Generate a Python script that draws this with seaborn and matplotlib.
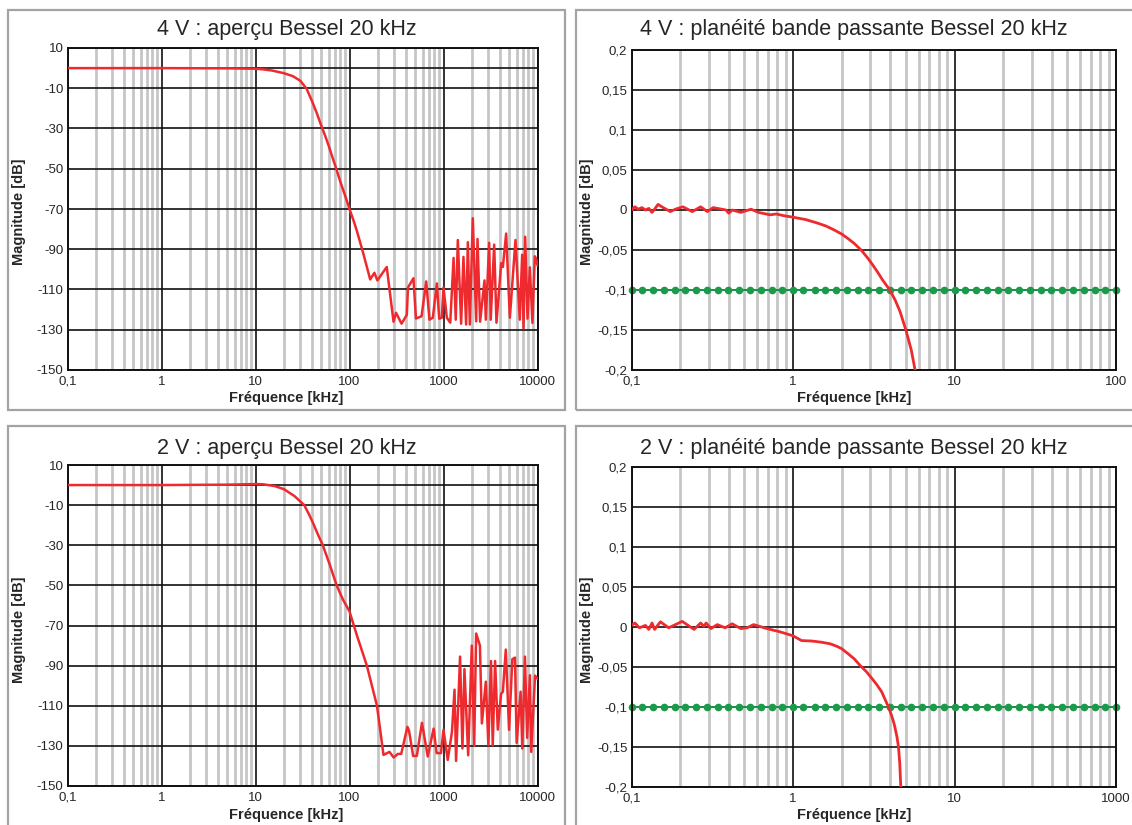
import numpy as np
import pandas as pd
import matplotlib
matplotlib.use("Agg")
import matplotlib.pyplot as plt
from matplotlib.patches import Rectangle
from matplotlib.ticker import FixedLocator, FixedFormatter, LogLocator, NullFormatter
import seaborn as sns

sns.set_style("white")
plt.rcParams["font.family"] = ["Liberation Sans", "DejaVu Sans"]

# ---------------------------------------------------------------- data (kHz, dB)
freq_4v_overview = [0.1, 1, 5, 10, 12, 15, 20, 25, 30, 35, 40, 45, 50, 55, 60, 65, 70, 80,
                    90, 100, 110, 120, 140, 166, 184, 198, 249, 294, 313, 358, 407, 419,
                    479, 509, 584, 655, 709, 770, 850, 900, 960, 1000, 1085, 1180, 1280,
                    1350, 1420, 1540, 1630, 1740, 1815, 1905, 2050, 2225, 2300, 2450,
                    2730, 2820, 3060, 3180, 3460, 3660, 4110, 4280, 4640, 5080, 5830,
                    6480, 6870, 7100, 7390, 7830, 8290, 8830, 9360, 9700, 10000]
mag_4v_overview = [0, 0, -0.1, -0.3, -0.6, -1.2, -2.5, -4, -6.3, -10.3, -16.5, -22.5,
                   -28.5, -33.5, -38.5, -43.5, -48, -56.5, -63.5, -70, -75.5, -81, -92,
                   -105, -101.7, -105.5, -98.8, -126, -121.6, -127, -122.6, -109, -104.4,
                   -124.4, -123.3, -106, -125, -124, -107, -124.5, -124, -109, -124,
                   -126.5, -94.3, -125, -85.4, -127, -93.8, -127.4, -86.5, -127.4, -74.6,
                   -125.8, -84.9, -126, -105.5, -125, -86.8, -125, -87.7, -126.5, -96.9,
                   -98.8, -82.2, -124, -85.4, -125, -92.7, -129.3, -83.8, -124.5, -99,
                   -126.6, -93.5, -95, -98]

freq_2v_overview = [0.1, 1, 5, 8, 10, 12, 16, 20, 26, 33, 37, 41, 46, 52, 62, 73, 85, 100,
                    120, 153, 196, 230, 266, 295, 327, 355, 413, 430, 475, 520, 590, 680,
                    785, 845, 940, 1000, 1110, 1230, 1310, 1360, 1500, 1590, 1670, 1830,
                    2000, 2120, 2225, 2440, 2560, 2820, 3000, 3200, 3340, 3540, 3780,
                    4100, 4280, 4600, 4980, 5400, 5760, 6000, 6610, 6890, 7350, 7760,
                    8300, 8570, 9420, 10000]
mag_2v_overview = [0, 0, 0.2, 0.4, 0.5, 0.4, -0.5, -2, -5.5, -10, -14.5, -19, -24.5, -30,
                   -40, -50, -57, -63, -75, -90, -110, -134.5, -133, -135.8, -134, -134,
                   -120.5, -122.5, -135, -135, -118.5, -135.3, -121.4, -133.6, -133.6,
                   -122, -137, -123, -102, -137.5, -85.5, -131.3, -91.7, -134.7, -80,
                   -130, -74, -80, -118.8, -98, -129.7, -87.7, -129.7, -87.7, -121.9, -104,
                   -103, -82, -122, -86.8, -86, -128.5, -103, -131.3, -85.5, -126, -94.8,
                   -133, -95, -96.5]

freq_4v_flat = [0.1, 0.105, 0.11, 0.116, 0.122, 0.128, 0.134, 0.139, 0.146, 0.154, 0.174,
                0.187, 0.208, 0.238, 0.268, 0.295, 0.32, 0.385, 0.4, 0.42, 0.475, 0.55,
                0.61, 0.72, 0.79, 0.87, 1.0, 1.2, 1.4, 1.6, 1.8, 2.0, 2.2, 2.4, 2.64, 2.9,
                3.1, 3.35, 3.6, 3.98, 4.3, 4.6, 5.0, 5.4, 5.7]
mag_4v_flat = [0.0, 0.004, 0.001, 0.003, 0.0, 0.002, -0.003, 0.001, 0.007, 0.004, -0.002,
               0.001, 0.004, -0.002, 0.004, -0.002, 0.003, 0.0, -0.004, 0.0, -0.003,
               0.001, -0.003, -0.006, -0.005, -0.007, -0.009, -0.012, -0.016, -0.020,
               -0.025, -0.030, -0.036, -0.042, -0.05, -0.06, -0.068, -0.078, -0.088,
               -0.1, -0.113, -0.127, -0.15, -0.175, -0.2]

freq_2v_flat = [0.1, 0.105, 0.112, 0.122, 0.128, 0.134, 0.139, 0.151, 0.170, 0.206, 0.244,
                0.268, 0.28, 0.29, 0.31, 0.34, 0.38, 0.42, 0.475, 0.52, 0.57, 0.69, 0.83,
                1.0, 1.13, 1.3, 1.5, 1.7, 1.86, 2.0, 2.18, 2.4, 2.6, 2.85, 3.1, 3.3, 3.54,
                3.9, 4.1, 4.24, 4.4, 4.5, 4.58, 4.65]
mag_2v_flat = [0.002, 0.005, -0.001, 0.002, -0.003, 0.005, -0.003, 0.0065, -0.001, 0.007,
               -0.003, 0.005, 0.001, 0.005, -0.002, 0.003, -0.001, 0.004, -0.002, -0.001,
               0.003, -0.002, -0.006, -0.011, -0.017, -0.0175, -0.019, -0.021, -0.024,
               -0.027, -0.033, -0.040, -0.048, -0.056, -0.065, -0.072, -0.081, -0.1,
               -0.112, -0.122, -0.137, -0.15, -0.17, -0.2]

# -0,1 dB tolerance line, sampled on the same grid in both flatness charts
limit_freq = [0.1, 0.116, 0.136, 0.158, 0.185, 0.215, 0.251, 0.293, 0.341, 0.398, 0.464,
              0.541, 0.631, 0.736, 0.858, 1.0, 1.16, 1.36, 1.58, 1.85, 2.15, 2.51, 2.93,
              3.41, 3.98, 4.64, 5.41, 6.31, 7.36, 8.58, 10.0, 11.6, 13.6, 15.8, 18.5,
              21.5, 25.1, 29.3, 34.1, 39.8, 46.4, 54.1, 63.1, 73.6, 85.8, 100.0]
limit_mag = [-0.1] * len(limit_freq)

titles = ["4 V : aperçu Bessel 20 kHz",
          "4 V : planéité bande passante Bessel 20 kHz",
          "2 V : aperçu Bessel 20 kHz",
          "2 V : planéité bande passante Bessel 20 kHz"]

overview_yticks = [10, -10, -30, -50, -70, -90, -110, -130, -150]
flat_yticks = [0.2, 0.15, 0.1, 0.05, 0, -0.05, -0.1, -0.15, -0.2]
flat_ylabels = ["0,2", "0,15", "0,1", "0,05", "0", "-0,05", "-0,1", "-0,15", "-0,2"]
overview_xticks = [0.1, 1, 10, 100, 1000, 10000]
overview_xlabels = ["0,1", "1", "10", "100", "1000", "10000"]
flat_xticks = [0.1, 1, 10, 100]
flat_xlabels_4v = ["0,1", "1", "10", "100"]
flat_xlabels_2v = ["0,1", "1", "10", "1000"]

# ---------------------------------------------------------------- layout helpers
W, H = 1132, 825
fig = plt.figure(figsize=(W / 100, H / 100), dpi=100)
fig.patch.set_facecolor("white")

RED = "#ee2a2e"
GREEN = "#1c9a4c"
TXT = "#262626"


def px_axes(left, top, right, bottom):
    return fig.add_axes([left / W, 1 - bottom / H, (right - left) / W, (bottom - top) / H])


def frame(left, top, right, bottom):
    fig.patches.append(Rectangle((left / W, 1 - bottom / H), (right - left) / W,
                                 (bottom - top) / H, transform=fig.transFigure,
                                 fill=False, edgecolor="#a3a3a3", lw=1.6, clip_on=False))


def style_axes(ax, xlim, ylim, xticks, xlabels, yticks, ylabels):
    ax.set_xscale("log")
    ax.set_xlim(*xlim)
    ax.set_ylim(*ylim)
    ax.xaxis.set_major_locator(FixedLocator(xticks))
    ax.xaxis.set_major_formatter(FixedFormatter(xlabels))
    ax.xaxis.set_minor_locator(LogLocator(base=10, subs=np.arange(2, 10)))
    ax.xaxis.set_minor_formatter(NullFormatter())
    ax.yaxis.set_major_locator(FixedLocator(yticks))
    ax.yaxis.set_major_formatter(FixedFormatter(ylabels))
    ax.set_axisbelow(True)
    ax.grid(which="minor", axis="x", color="#c6c6c6", lw=2.0)
    ax.grid(which="major", axis="both", color="#111111", lw=1.2)
    ax.tick_params(which="both", length=0, labelsize=9.5, labelcolor=TXT)
    ax.tick_params(axis="x", pad=4)
    ax.tick_params(axis="y", pad=3)
    for s in ax.spines.values():
        s.set_color("#111111")
        s.set_linewidth(1.4)
    ax.set_xlabel("")
    ax.set_ylabel("")


def panel_text(fx0, fx1, title_y, xlabel_y, ylabel_x, ylabel_y, title):
    cx = (fx0 + fx1) / 2 / W
    fig.text(cx, 1 - title_y / H, title, ha="center", va="center", fontsize=15.5, color=TXT)
    fig.text(cx, 1 - xlabel_y / H, "Fréquence [kHz]", ha="center", va="center",
             fontsize=10.5, fontweight="bold", color=TXT)
    fig.text(ylabel_x / W, 1 - ylabel_y / H, "Magnitude [dB]", ha="center", va="center",
             rotation=90, fontsize=10.5, fontweight="bold", color=TXT)


# ---------------------------------------------------------------- frames
frame(8, 10, 565, 410)
frame(576, 10, 1140, 410)
frame(8, 426, 565, 840)
frame(576, 426, 1140, 840)

# ---------------------------------------------------------------- overview charts
for (top, bottom, fx, fm, title, ty, xy, yy) in [
        (48, 370, freq_4v_overview, mag_4v_overview, titles[0], 30, 398, 212),
        (465, 786, freq_2v_overview, mag_2v_overview, titles[2], 448, 815, 630)]:
    ax = px_axes(67.5, top, 537.5, bottom)
    style_axes(ax, (0.1, 10000), (-150, 10), overview_xticks, overview_xlabels,
               overview_yticks, [str(v) for v in overview_yticks])
    ax.axhline(0, color="#111111", lw=1.2, zorder=1)
    df = pd.DataFrame({"freq": fx, "mag": fm})
    sns.lineplot(data=df, x="freq", y="mag", ax=ax, color=RED, lw=1.8,
                 estimator=None, zorder=3)
    ax.set_xlabel("")
    ax.set_ylabel("")
    panel_text(8, 565, ty, xy, 19, yy, title)

# ---------------------------------------------------------------- flatness charts
for (top, bottom, fx, fm, xlabels, title, ty, xy, yy) in [
        (50, 370, freq_4v_flat, mag_4v_flat, flat_xlabels_4v, titles[1], 30, 398, 212),
        (467, 787, freq_2v_flat, mag_2v_flat, flat_xlabels_2v, titles[3], 448, 815, 630)]:
    ax = px_axes(631.5, top, 1116, bottom)
    style_axes(ax, (0.1, 100), (-0.2, 0.2), flat_xticks, xlabels, flat_yticks, flat_ylabels)
    lim = pd.DataFrame({"freq": limit_freq, "mag": limit_mag})
    sns.lineplot(data=lim, x="freq", y="mag", ax=ax, color=GREEN, lw=1.3, marker="o",
                 markersize=5.5, markeredgewidth=0, markerfacecolor=GREEN,
                 estimator=None, zorder=2, clip_on=False)
    df = pd.DataFrame({"freq": fx, "mag": fm})
    sns.lineplot(data=df, x="freq", y="mag", ax=ax, color=RED, lw=2.0,
                 estimator=None, zorder=3)
    ax.set_xlabel("")
    ax.set_ylabel("")
    panel_text(576, 1132, ty, xy, 587, yy, title)

fig.savefig("out.png", dpi=100, facecolor="white")
